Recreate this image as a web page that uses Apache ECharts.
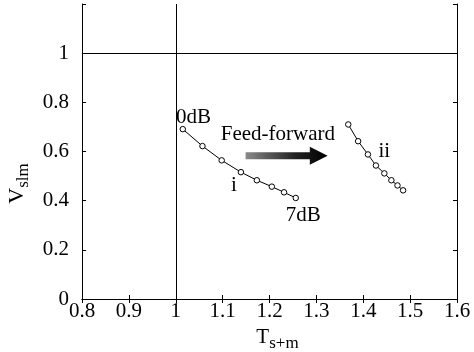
<!DOCTYPE html>
<html>
<head>
<meta charset="utf-8">
<script src="https://cdn.jsdelivr.net/npm/echarts@6/dist/echarts.min.js"></script>
<style>
  html, body { margin: 0; padding: 0; background: #fff; }
  #chart { width: 474px; height: 352px; }
</style>
</head>
<body>
<div id="chart"></div>
<script>
// curve i (without feed-forward), 0dB .. 7dB
var tI = [1.015, 1.057, 1.098, 1.139, 1.173, 1.205, 1.231, 1.256];
var vI = [0.691, 0.622, 0.564, 0.516, 0.483, 0.457, 0.434, 0.411];
// curve ii (with feed-forward)
var tII = [1.368, 1.389, 1.410, 1.427, 1.445, 1.460, 1.473, 1.485];
var vII = [0.710, 0.642, 0.588, 0.543, 0.511, 0.483, 0.462, 0.442];

var xTicks = [0.8, 0.9, 1, 1.1, 1.2, 1.3, 1.4, 1.5, 1.6];
var yTicks = [0, 0.2, 0.4, 0.6, 0.8, 1];

var FONT = 'Liberation Serif';
var FS = 21;

function pairs(xs, ys) {
    var out = [];
    for (var i = 0; i < xs.length; i++) out.push([xs[i], ys[i]]);
    return out;
}

var chart = echarts.init(document.getElementById('chart'));

var tick = { show: true, inside: true, length: 4, lineStyle: { color: '#000', width: 1 } };

var option = {
    animation: false,
    backgroundColor: '#fff',
    grid: { left: 82, right: 17, top: 4, bottom: 53, containLabel: false, outerBoundsMode: 'none' },
    xAxis: [{
        type: 'value', min: 0.8, max: 1.6, interval: 0.1,
        axisLine: { lineStyle: { color: '#000', width: 1 } },
        axisTick: tick,
        splitLine: { show: false },
        axisLabel: {
            color: '#000', fontFamily: FONT, fontSize: FS, margin: 2,
            formatter: function (v) { return String(Math.round(v * 10) / 10); }
        },
        name: 'T{sub|s+m}',
        nameLocation: 'middle', nameGap: 22,
        nameTextStyle: {
            color: '#000', fontFamily: FONT, fontSize: FS, padding: [0, 0, 0, 16],
            rich: { sub: { fontFamily: FONT, fontSize: 17, color: '#000', padding: [12, 0, 0, 0] } }
        }
    }, {
        type: 'value', min: 0.8, max: 1.6, interval: 0.1, position: 'top',
        axisLine: { lineStyle: { color: '#000', width: 1 } },
        axisTick: tick, axisLabel: { show: false }, splitLine: { show: false }
    }],
    yAxis: [{
        type: 'value', min: 0, max: 1.2, interval: 0.2,
        axisLine: { lineStyle: { color: '#000', width: 1 } },
        axisTick: tick,
        splitLine: { show: false },
        axisLabel: {
            color: '#000', fontFamily: FONT, fontSize: FS, margin: 13,
            formatter: function (v) {
                v = Math.round(v * 10) / 10;
                return yTicks.indexOf(v) >= 0 ? String(v) : '';
            }
        },
        name: 'V{sub|slm}',
        nameLocation: 'middle', nameGap: 35, nameRotate: 90,
        nameTextStyle: {
            color: '#000', fontFamily: FONT, fontSize: 22, padding: [0, 64, 0, 0],
            rich: { sub: { fontFamily: FONT, fontSize: 17, color: '#000', padding: [12, 0, 0, 0] } }
        }
    }, {
        type: 'value', min: 0, max: 1.2, interval: 0.2, position: 'right',
        axisLine: { lineStyle: { color: '#000', width: 1 } },
        axisTick: tick, axisLabel: { show: false }, splitLine: { show: false }
    }],
    series: [{
        name: 'i', type: 'line', data: pairs(tI, vI),
        symbol: 'circle', symbolSize: 5.5, showSymbol: true,
        lineStyle: { color: '#000', width: 1 },
        itemStyle: { color: '#fff', borderColor: '#000', borderWidth: 1 },
        markLine: {
            silent: true, symbol: 'none', label: { show: false },
            lineStyle: { color: '#000', width: 1, type: 'solid' },
            data: [{ xAxis: 1 }, { yAxis: 1 }]
        }
    }, {
        name: 'ii', type: 'line', data: pairs(tII, vII),
        symbol: 'circle', symbolSize: 5.5, showSymbol: true,
        lineStyle: { color: '#000', width: 1 },
        itemStyle: { color: '#fff', borderColor: '#000', borderWidth: 1 }
    }]
};

chart.setOption(option);

// annotations placed from data coordinates
function px(x, y) { return chart.convertToPixel({ xAxisIndex: 0, yAxisIndex: 0 }, [x, y]); }
function txt(x, y, s, align) {
    var p = px(x, y);
    return {
        type: 'text', x: p[0], y: p[1],
        style: { text: s, fill: '#000', font: FS + 'px "' + FONT + '"', align: align || 'center', verticalAlign: 'middle' }
    };
}

var a0 = px(1.149, 0.583), a1 = px(1.286, 0.583), a2 = px(1.324, 0.583);
var arrow = {
    type: 'polygon',
    shape: {
        points: [
            [a0[0], a0[1] - 3.5], [a1[0], a1[1] - 3.5], [a1[0], a1[1] - 9],
            [a2[0], a2[1]],
            [a1[0], a1[1] + 9], [a1[0], a1[1] + 3.5], [a0[0], a0[1] + 3.5]
        ]
    },
    style: {
        fill: new echarts.graphic.LinearGradient(0, 0, 1, 0, [
            { offset: 0, color: '#8a8a8a' },
            { offset: 0.6, color: '#222' },
            { offset: 1, color: '#000' }
        ])
    }
};

chart.setOption({
    graphic: [
        txt(1.038, 0.74, '0dB'),
        txt(1.124, 0.46, 'i'),
        txt(1.272, 0.34, '7dB'),
        txt(1.445, 0.60, 'ii'),
        txt(1.218, 0.67, 'Feed-forward'),
        arrow
    ]
});
</script>
</body>
</html>
